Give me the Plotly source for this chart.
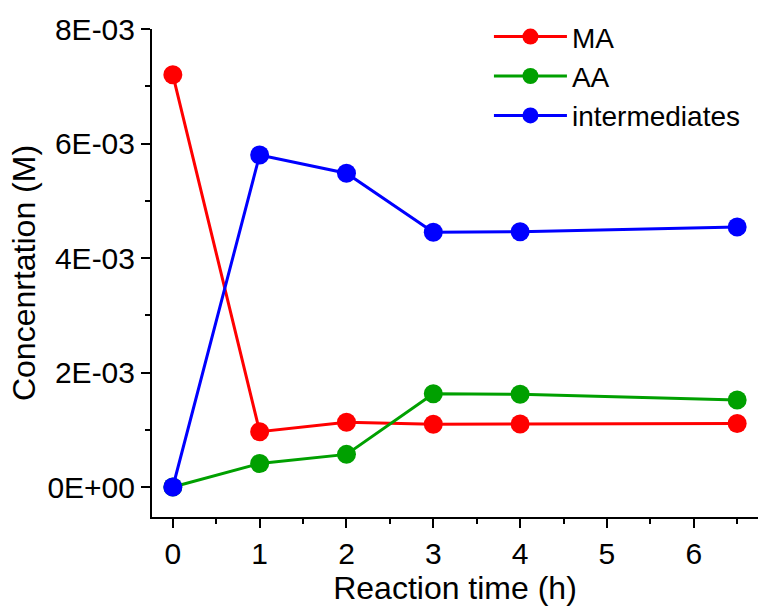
import plotly.graph_objects as go

time_h = [0, 1, 2, 3, 4, 6.5]
ma = [7.20e-3, 0.966e-3, 1.13e-3, 1.095e-3, 1.10e-3, 1.11e-3]
aa = [0.0, 0.41e-3, 0.57e-3, 1.63e-3, 1.62e-3, 1.52e-3]
inter = [0.0, 5.80e-3, 5.48e-3, 4.45e-3, 4.46e-3, 4.54e-3]

series_names = ["MA", "AA", "intermediates"]
series_colors = ["#ff0000", "#00a000", "#0000ff"]

x_tickvals = [0, 1, 2, 3, 4, 5, 6]
x_ticktext = ["0", "1", "2", "3", "4", "5", "6"]
y_tickvals = [0, 2e-3, 4e-3, 6e-3, 8e-3]
y_ticktext = ["0E+00", "2E-03", "4E-03", "6E-03", "8E-03"]

FONT = "Arial, Liberation Sans, sans-serif"

fig = go.Figure()
for name, vals, col in zip(series_names, [ma, aa, inter], series_colors):
    fig.add_trace(go.Scatter(
        x=time_h, y=vals, name=name, mode="lines+markers",
        line=dict(color=col, width=3),
        marker=dict(color=col, size=19, line=dict(width=0)),
    ))

fig.update_layout(
    width=760, height=615,
    margin=dict(l=152, r=2, t=29, b=98),
    paper_bgcolor="white", plot_bgcolor="white",
    font=dict(family=FONT, size=30, color="black"),
    showlegend=True,
    legend=dict(x=0.556, y=1.035, xanchor="left", yanchor="top",
                bgcolor="rgba(0,0,0,0)", font=dict(size=28),
                tracegroupgap=0, itemwidth=73),
    xaxis=dict(
        range=[-0.24, 6.74], tickvals=x_tickvals, ticktext=x_ticktext,
        showline=True, linecolor="black", linewidth=2, mirror=False,
        ticks="outside", ticklen=9, tickwidth=2, tickcolor="black",
        showgrid=False, zeroline=False,
        minor=dict(dtick=0.5, tick0=0, ticks="outside", ticklen=5, tickwidth=2, tickcolor="black", showgrid=False),
        title=dict(text="Reaction time (h)", font=dict(size=32), standoff=8),
    ),
    yaxis=dict(
        range=[-0.524e-3, 8.0e-3], tickvals=y_tickvals, ticktext=y_ticktext,
        showline=True, linecolor="black", linewidth=2,
        ticks="outside", ticklen=9, tickwidth=2, tickcolor="black",
        showgrid=False, zeroline=False,
        minor=dict(dtick=1e-3, tick0=0, ticks="outside", ticklen=5, tickwidth=2, tickcolor="black", showgrid=False),
        title=dict(text="Concenrtation (M)", font=dict(size=32), standoff=2),
    ),
)

fig.write_html("out.html")
